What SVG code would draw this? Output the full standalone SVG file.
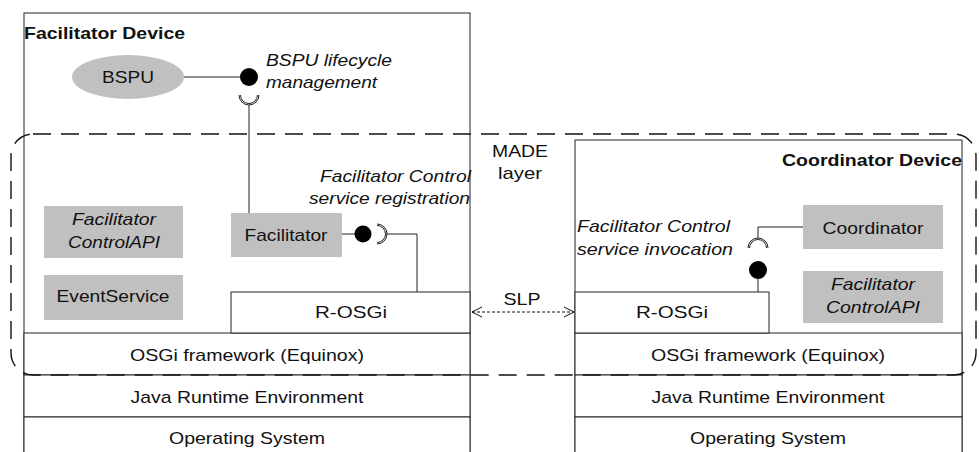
<svg xmlns="http://www.w3.org/2000/svg" width="979" height="452" viewBox="0 0 979 452">
<defs>
<style>
.box{fill:#fff;stroke:#222;stroke-width:1}
.comp{fill:#c0c0c0;stroke:none}
.ln{fill:none;stroke:#222;stroke-width:1}
.ball{fill:#000;stroke:none}
.layer{fill:none;stroke:#111;stroke-width:1.4;stroke-dasharray:18 10}
.slp{fill:none;stroke:#111;stroke-width:1;stroke-dasharray:3 2}
text{font-family:"Liberation Sans",Arial,sans-serif;font-size:17px;fill:#111}
.b{font-weight:bold}
.i{font-style:italic}
.m{text-anchor:middle}
.e{text-anchor:end}
</style>
<marker id="open" viewBox="0 0 12 12" refX="11" refY="6" markerWidth="12" markerHeight="12" markerUnits="userSpaceOnUse" orient="auto-start-reverse">
<path d="M1,1 L11,6 L1,11" fill="none" stroke="#111" stroke-width="1"/>
</marker>
</defs>
<rect width="979" height="452" fill="#fff"/>

<g id="facilitator-device">
<rect class="box" x="24" y="13" width="446" height="450"/>
<text class="b" x="24" y="39" textLength="161" lengthAdjust="spacingAndGlyphs">Facilitator Device</text>
</g>

<g id="coordinator-device">
<rect class="box" x="575" y="140" width="387" height="323"/>
<text class="b e" x="962" y="166" textLength="180" lengthAdjust="spacingAndGlyphs">Coordinator Device</text>
</g>

<g id="left-stack">
<rect class="box" x="24" y="333" width="446" height="42"/>
<text class="m" x="247" y="361" textLength="234" lengthAdjust="spacingAndGlyphs">OSGi framework (Equinox)</text>
<rect class="box" x="24" y="375" width="446" height="42"/>
<text class="m" x="247" y="403" textLength="233" lengthAdjust="spacingAndGlyphs">Java Runtime Environment</text>
<rect class="box" x="24" y="417" width="446" height="46"/>
<text class="m" x="247" y="444" textLength="156" lengthAdjust="spacingAndGlyphs">Operating System</text>
</g>

<g id="right-stack">
<rect class="box" x="575" y="333" width="387" height="42"/>
<text class="m" x="768" y="361" textLength="234" lengthAdjust="spacingAndGlyphs">OSGi framework (Equinox)</text>
<rect class="box" x="575" y="375" width="387" height="42"/>
<text class="m" x="768" y="403" textLength="233" lengthAdjust="spacingAndGlyphs">Java Runtime Environment</text>
<rect class="box" x="575" y="417" width="387" height="46"/>
<text class="m" x="768" y="444" textLength="156" lengthAdjust="spacingAndGlyphs">Operating System</text>
</g>

<g id="r-osgi-left">
<rect class="box" x="231" y="292" width="239" height="41"/>
<text class="m" x="351" y="318" textLength="72" lengthAdjust="spacingAndGlyphs">R-OSGi</text>
</g>

<g id="r-osgi-right">
<rect class="box" x="575" y="292" width="194" height="41"/>
<text class="m" x="672" y="318" textLength="72" lengthAdjust="spacingAndGlyphs">R-OSGi</text>
</g>

<g id="made-layer">
<rect class="layer" x="11" y="134" width="965" height="241" rx="22" ry="22"/>
<text class="m" x="520" y="157" textLength="56" lengthAdjust="spacingAndGlyphs">MADE</text>
<text class="m" x="520" y="179" textLength="44" lengthAdjust="spacingAndGlyphs">layer</text>
</g>

<g id="bspu">
<ellipse class="comp" cx="128" cy="77" rx="56" ry="22"/>
<text class="m" x="128" y="83" textLength="52" lengthAdjust="spacingAndGlyphs">BSPU</text>
</g>

<g id="facilitator">
<rect class="comp" x="231" y="213" width="111" height="44"/>
<text class="m" x="286" y="241" textLength="83" lengthAdjust="spacingAndGlyphs">Facilitator</text>
</g>

<g id="facilitator-controlapi-left">
<rect class="comp" x="44" y="206" width="139" height="52"/>
<text class="i m" x="114" y="225" textLength="84" lengthAdjust="spacingAndGlyphs">Facilitator</text>
<text class="i m" x="114" y="248" textLength="92" lengthAdjust="spacingAndGlyphs">ControlAPI</text>
</g>

<g id="eventservice">
<rect class="comp" x="44" y="275" width="139" height="45"/>
<text class="m" x="113" y="302" textLength="113" lengthAdjust="spacingAndGlyphs">EventService</text>
</g>

<g id="coordinator">
<rect class="comp" x="803" y="205" width="140" height="44"/>
<text class="m" x="873" y="234" textLength="101" lengthAdjust="spacingAndGlyphs">Coordinator</text>
</g>

<g id="facilitator-controlapi-right">
<rect class="comp" x="803" y="271" width="140" height="52"/>
<text class="i m" x="873" y="290" textLength="84" lengthAdjust="spacingAndGlyphs">Facilitator</text>
<text class="i m" x="873" y="313" textLength="94" lengthAdjust="spacingAndGlyphs">ControlAPI</text>
</g>

<g id="labels">
<text class="i" x="266" y="66" textLength="126" lengthAdjust="spacingAndGlyphs">BSPU lifecycle</text>
<text class="i" x="266" y="88" textLength="111" lengthAdjust="spacingAndGlyphs">management</text>
<text class="i e" x="471" y="182" textLength="151" lengthAdjust="spacingAndGlyphs">Facilitator Control</text>
<text class="i e" x="470" y="204" textLength="161" lengthAdjust="spacingAndGlyphs">service registration</text>
<text class="i" x="577" y="232" textLength="153" lengthAdjust="spacingAndGlyphs">Facilitator Control</text>
<text class="i" x="577" y="255" textLength="156" lengthAdjust="spacingAndGlyphs">service invocation</text>
<text class="m" x="522" y="305" textLength="37" lengthAdjust="spacingAndGlyphs">SLP</text>
</g>

<g id="connectors">
<!-- BSPU lifecycle management -->
<line class="ln" x1="184" y1="77" x2="242" y2="77"/>
<circle class="ball" cx="249" cy="77" r="9"/>
<path class="ln" d="M239,95 A10,10 0 0 0 259,95 M240.5,95 A8.5,8.5 0 0 0 257.5,95"/>
<line class="ln" x1="249" y1="105" x2="249" y2="213"/>
<!-- Facilitator Control service registration -->
<line class="ln" x1="342" y1="234" x2="356" y2="234"/>
<circle class="ball" cx="363" cy="234" r="8.5"/>
<path class="ln" d="M377,224 A10,10 0 0 1 377,244 M377,225.5 A8.5,8.5 0 0 1 377,242.5"/>
<polyline class="ln" points="387,234 417,234 417,292"/>
<!-- Facilitator Control service invocation -->
<polyline class="ln" points="803,227 758,227 758,238"/>
<path class="ln" d="M748,248 A10,10 0 0 1 768,248 M749.5,248 A8.5,8.5 0 0 1 766.5,248"/>
<circle class="ball" cx="758" cy="270" r="9"/>
<line class="ln" x1="758" y1="278" x2="758" y2="292"/>
<!-- SLP -->
<line class="slp" x1="472" y1="312" x2="574" y2="312" marker-start="url(#open)" marker-end="url(#open)"/>
</g>
</svg>
